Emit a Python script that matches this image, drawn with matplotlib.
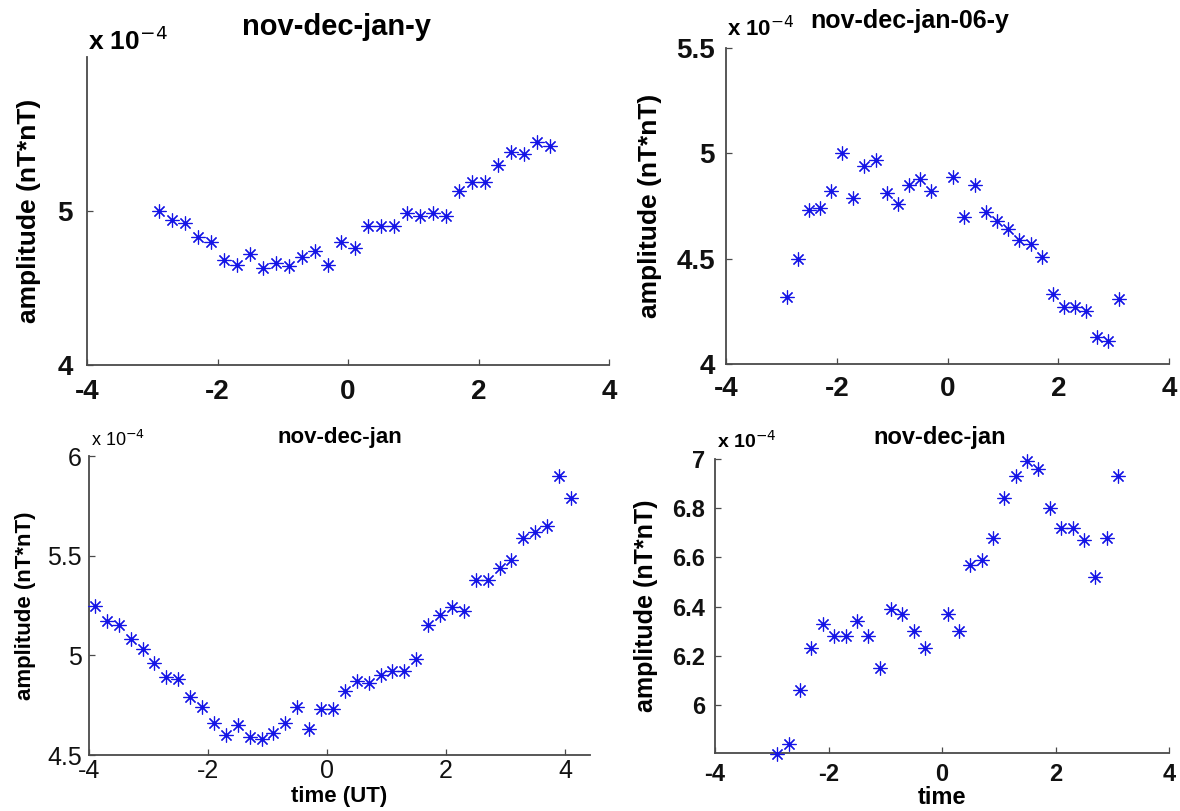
import matplotlib
matplotlib.use("Agg")
import matplotlib.pyplot as plt

plt.rcParams['font.family'] = ['Liberation Sans', 'DejaVu Sans']
plt.rcParams['axes.unicode_minus'] = False

# ---------------- data (values in units of 1e-4 nT*nT) ----------------
x_tl = [-2.9, -2.7, -2.5, -2.3, -2.1, -1.9, -1.7, -1.5, -1.3, -1.1, -0.9, -0.7, -0.5, -0.3, -0.1,
        0.1, 0.3, 0.5, 0.7, 0.9, 1.1, 1.3, 1.5, 1.7, 1.9, 2.1, 2.3, 2.5, 2.7, 2.9, 3.1]
y_tl = [5.00, 4.94, 4.92, 4.83, 4.80, 4.68, 4.65, 4.72, 4.63, 4.66, 4.64, 4.70, 4.74, 4.65, 4.80,
        4.76, 4.90, 4.90, 4.90, 4.99, 4.97, 4.99, 4.97, 5.13, 5.19, 5.19, 5.30, 5.38, 5.37, 5.45, 5.42]

x_tr = [-2.9, -2.7, -2.5, -2.3, -2.1, -1.9, -1.7, -1.5, -1.3, -1.1, -0.9, -0.7, -0.5, -0.3,
        0.1, 0.3, 0.5, 0.7, 0.9, 1.1, 1.3, 1.5, 1.7, 1.9, 2.1, 2.3, 2.5, 2.7, 2.9, 3.1]
y_tr = [4.32, 4.50, 4.73, 4.74, 4.82, 5.00, 4.79, 4.94, 4.97, 4.81, 4.76, 4.85, 4.88, 4.82,
        4.89, 4.70, 4.85, 4.72, 4.68, 4.64, 4.59, 4.57, 4.51, 4.33, 4.27, 4.27, 4.25, 4.13, 4.11, 4.31]

x_bl = [-3.9, -3.7, -3.5, -3.3, -3.1, -2.9, -2.7, -2.5, -2.3, -2.1, -1.9, -1.7, -1.5, -1.3, -1.1,
        -0.9, -0.7, -0.5, -0.3, -0.1, 0.1, 0.3, 0.5, 0.7, 0.9, 1.1, 1.3, 1.5, 1.7, 1.9, 2.1,
        2.3, 2.5, 2.7, 2.9, 3.1, 3.3, 3.5, 3.7, 3.9, 4.1]
y_bl = [5.25, 5.17, 5.15, 5.08, 5.03, 4.96, 4.89, 4.88, 4.79, 4.74, 4.66, 4.60, 4.65, 4.59, 4.58,
        4.61, 4.66, 4.74, 4.63, 4.73, 4.73, 4.82, 4.87, 4.86, 4.90, 4.92, 4.92, 4.98, 5.15, 5.20, 5.24,
        5.22, 5.38, 5.38, 5.44, 5.48, 5.59, 5.62, 5.65, 5.90, 5.79]

x_br = [-2.9, -2.7, -2.5, -2.3, -2.1, -1.9, -1.7, -1.5, -1.3, -1.1, -0.9, -0.7, -0.5, -0.3,
        0.1, 0.3, 0.5, 0.7, 0.9, 1.1, 1.3, 1.5, 1.7, 1.9, 2.1, 2.3, 2.5, 2.7, 2.9, 3.1]
y_br = [5.80, 5.84, 6.06, 6.23, 6.33, 6.28, 6.28, 6.34, 6.28, 6.15, 6.39, 6.37, 6.30, 6.23,
        6.37, 6.30, 6.57, 6.59, 6.68, 6.84, 6.93, 6.99, 6.96, 6.80, 6.72, 6.72, 6.67, 6.52, 6.68, 6.93]

titles = ["nov-dec-jan-y", "nov-dec-jan-06-y", "nov-dec-jan", "nov-dec-jan"]
ylabel = "amplitude (nT*nT)"
xlabels = [None, None, "time (UT)", "time"]
xticks = [-4, -2, 0, 2, 4]
yticks_tl = [4, 5]
yticks_tr = [4, 4.5, 5, 5.5]
yticks_bl = [4.5, 5, 5.5, 6]
yticks_br = [6, 6.2, 6.4, 6.6, 6.8, 7]

# ---------------- figure ----------------
W, H = 1180, 811
fig = plt.figure(figsize=(W / 100, H / 100), dpi=100)


def rect(l, r, b, t):
    return [l / W, 1 - b / H, (r - l) / W, (b - t) / H]


def ftext(x, y, s, **kw):
    fig.text(x / W, 1 - y / H, s, **kw)


AX_COLOR = '#4a4a4a'
BLUE = '#1414e6'


def style(ax, fs, weight, xpad=6, ypad=6):
    for s in ('top', 'right'):
        ax.spines[s].set_visible(False)
    for s in ('left', 'bottom'):
        ax.spines[s].set_color(AX_COLOR)
        ax.spines[s].set_linewidth(1.3)
    ax.tick_params(direction='in', length=4, width=0.9, color=AX_COLOR,
                   labelsize=fs)
    ax.tick_params(axis='x', pad=xpad)
    ax.tick_params(axis='y', pad=ypad)
    for lab in ax.get_xticklabels() + ax.get_yticklabels():
        lab.set_fontweight(weight)
        lab.set_color('#111111')


def scatter(ax, x, y):
    ax.plot(x, y, linestyle='none', marker=(8, 2, 0), markersize=10,
            markeredgewidth=0.85, color=BLUE, clip_on=False, zorder=3)


# top-left
ax1 = fig.add_axes(rect(87, 609, 365, 57))
scatter(ax1, x_tl, y_tl)
ax1.set_xlim(-4, 4)
ax1.set_ylim(4, 6)
ax1.set_xticks(xticks)
ax1.set_yticks(yticks_tl)
ax1.set_yticklabels(['4', '5'])
style(ax1, 20, 'bold', xpad=10, ypad=10)
ax1.set_ylabel(ylabel, fontsize=19, fontweight='bold', labelpad=12)
ftext(336, 35, titles[0], fontsize=21, fontweight='bold', ha='center', va='baseline')
ftext(88, 50, r"x 10$^{-4}$", fontsize=19, fontweight='bold', ha='left', va='baseline')

# top-right
ax2 = fig.add_axes(rect(726, 1169, 364, 48))
scatter(ax2, x_tr, y_tr)
ax2.set_xlim(-4, 4)
ax2.set_ylim(4, 5.5)
ax2.set_xticks(xticks)
ax2.set_yticks(yticks_tr)
ax2.set_yticklabels(['4', '4.5', '5', '5.5'])
style(ax2, 20, 'bold', xpad=9, ypad=8)
ax2.set_ylabel(ylabel, fontsize=19, fontweight='bold', labelpad=10)
ftext(910, 28, titles[1], fontsize=18, fontweight='bold', ha='center', va='baseline')
ftext(727, 36, r"x 10$^{-4}$", fontsize=16, fontweight='bold', ha='left', va='baseline')

# bottom-left
ax3 = fig.add_axes(rect(89, 590, 755, 456))
scatter(ax3, x_bl, y_bl)
ax3.set_xlim(-4, 4.42)
ax3.set_ylim(4.5, 6)
ax3.set_xticks(xticks)
ax3.set_yticks(yticks_bl)
ax3.set_yticklabels(['4.5', '5', '5.5', '6'])
style(ax3, 18, 'normal', xpad=3, ypad=5)
ax3.set_ylabel(ylabel, fontsize=16, fontweight='bold', labelpad=8)
ax3.set_xlabel(xlabels[2], fontsize=16, fontweight='bold', labelpad=2)
ftext(340, 443, titles[2], fontsize=16, fontweight='bold', ha='center', va='baseline')
ftext(91, 446, r"x 10$^{-4}$", fontsize=13, ha='left', va='baseline')

# bottom-right
ax4 = fig.add_axes(rect(715, 1169, 753, 459))
scatter(ax4, x_br, y_br)
ax4.set_xlim(-4, 4)
ax4.set_ylim(5.805, 7)
ax4.set_xticks(xticks)
ax4.set_yticks(yticks_br)
ax4.set_yticklabels(['6', '6.2', '6.4', '6.6', '6.8', '7'])
style(ax4, 17, 'bold', xpad=7, ypad=7)
ax4.set_ylabel(ylabel, fontsize=18, fontweight='bold', labelpad=10)
ax4.set_xlabel(xlabels[3], fontsize=17, fontweight='bold', labelpad=0)
ftext(940, 444, titles[3], fontsize=17, fontweight='bold', ha='center', va='baseline')
ftext(717, 448, r"x 10$^{-4}$", fontsize=14, fontweight='bold', ha='left', va='baseline')

fig.savefig("out.png", dpi=100, facecolor='white')
